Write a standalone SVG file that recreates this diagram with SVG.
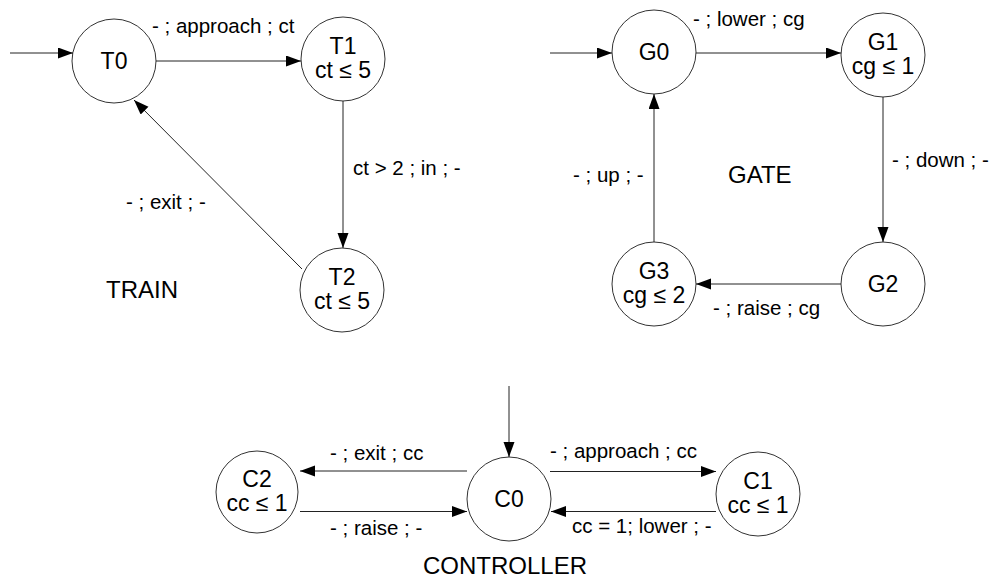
<svg xmlns="http://www.w3.org/2000/svg" width="992" height="586" viewBox="0 0 992 586">
  <defs>
    <marker id="arrow" markerUnits="userSpaceOnUse" markerWidth="16" markerHeight="12" refX="15" refY="5.5" orient="auto">
      <path d="M0,0 L15,5.5 L0,11 z" fill="#000"/>
    </marker>
    <style>
      .state { fill: #fff; stroke: #333; stroke-width: 1; }
      .node-label { font-family: "Liberation Sans", Arial, sans-serif; font-size: 23px; fill: #000; text-anchor: middle; }
      .edge { fill: none; stroke: #222; stroke-width: 1; marker-end: url(#arrow); }
      .edge-label { font-family: "Liberation Sans", Arial, sans-serif; font-size: 20.5px; fill: #000; }
      .title { font-family: "Liberation Sans", Arial, sans-serif; font-size: 24px; fill: #000; }
    </style>
  </defs>
  <rect width="992" height="586" fill="#fff"/>

  <!-- TRAIN automaton -->
  <g id="T0"><circle class="state" cx="114" cy="61" r="42"/><text class="node-label" x="114" y="69">T0</text></g>
  <g id="T1"><circle class="state" cx="343" cy="59" r="42"/><text class="node-label" x="343" y="54">T1</text><text class="node-label" x="343" y="78">ct ≤ 5</text></g>
  <g id="T2"><circle class="state" cx="342" cy="290" r="42"/><text class="node-label" x="342" y="285">T2</text><text class="node-label" x="342" y="309">ct ≤ 5</text></g>

  <!-- GATE automaton -->
  <g id="G0"><circle class="state" cx="654" cy="52" r="42"/><text class="node-label" x="654" y="60">G0</text></g>
  <g id="G1"><circle class="state" cx="883" cy="55" r="42"/><text class="node-label" x="883" y="50">G1</text><text class="node-label" x="883" y="74">cg ≤ 1</text></g>
  <g id="G2"><circle class="state" cx="883" cy="284" r="42"/><text class="node-label" x="883" y="292">G2</text></g>
  <g id="G3"><circle class="state" cx="654" cy="284" r="42"/><text class="node-label" x="654" y="279">G3</text><text class="node-label" x="654" y="303">cg ≤ 2</text></g>

  <!-- CONTROLLER automaton -->
  <g id="C2"><circle class="state" cx="257" cy="492" r="41"/><text class="node-label" x="257" y="487">C2</text><text class="node-label" x="257" y="511">cc ≤ 1</text></g>
  <g id="C0"><circle class="state" cx="509" cy="499" r="42"/><text class="node-label" x="509" y="507">C0</text></g>
  <g id="C1"><circle class="state" cx="758" cy="494" r="42"/><text class="node-label" x="758" y="489">C1</text><text class="node-label" x="758" y="513">cc ≤ 1</text></g>

  <!-- transitions -->
  <g id="connectors">
    <line class="edge" x1="10" y1="53" x2="73" y2="53"/>
    <line class="edge" x1="156" y1="61" x2="301" y2="61"/>
    <line class="edge" x1="343" y1="101" x2="343" y2="248"/>
    <line class="edge" x1="302" y1="269" x2="134" y2="100"/>

    <line class="edge" x1="550" y1="53" x2="612" y2="53"/>
    <line class="edge" x1="696" y1="53" x2="841" y2="53"/>
    <line class="edge" x1="883" y1="97" x2="883" y2="242"/>
    <line class="edge" x1="841" y1="284" x2="696" y2="284"/>
    <line class="edge" x1="654" y1="242" x2="654" y2="94"/>

    <line class="edge" x1="509" y1="386" x2="509" y2="457"/>
    <line class="edge" x1="467" y1="471" x2="300" y2="471"/>
    <line class="edge" x1="300" y1="511.5" x2="467" y2="511.5"/>
    <line class="edge" x1="550" y1="471.5" x2="716" y2="471.5"/>
    <line class="edge" x1="716" y1="511.5" x2="551" y2="511.5"/>
  </g>

  <!-- transition labels -->
  <g id="edge-labels">
    <text class="edge-label" x="152" y="33">- ; approach ; ct</text>
    <text class="edge-label" x="353" y="175">ct &gt; 2 ; in ; -</text>
    <text class="edge-label" x="126" y="209">- ; exit ; -</text>

    <text class="edge-label" x="693" y="26">- ; lower ; cg</text>
    <text class="edge-label" x="892" y="167">- ; down ; -</text>
    <text class="edge-label" x="573" y="182">- ; up ; -</text>
    <text class="edge-label" x="713" y="315">- ; raise ; cg</text>

    <text class="edge-label" x="330" y="460">- ; exit ; cc</text>
    <text class="edge-label" x="330" y="535">- ; raise ; -</text>
    <text class="edge-label" x="550" y="458">- ; approach ; cc</text>
    <text class="edge-label" x="572" y="533">cc = 1; lower ; -</text>
  </g>

  <!-- automaton names -->
  <text class="title" x="106" y="298">TRAIN</text>
  <text class="title" x="728" y="183">GATE</text>
  <text class="title" x="423" y="574">CONTROLLER</text>
</svg>
